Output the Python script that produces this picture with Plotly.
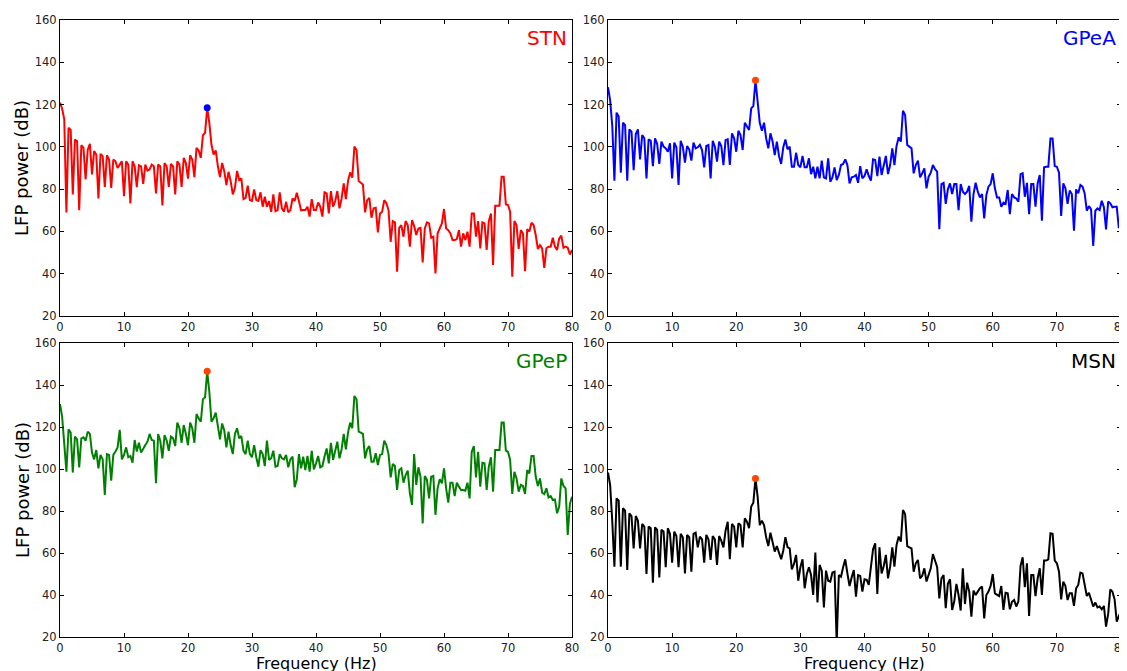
import plotly.graph_objects as go

# Frequency resolution of the spectra (Hz per bin)
FREQ_STEP = 1.0 / 3.0

stn_db = [
    121, 118, 113, 69, 109, 108, 77.5, 103.5, 102.7, 70,
    100.8, 99.5, 84.6, 98.7, 101.4, 87, 98, 96.4, 75.6, 96.7,
    95.6, 81, 96, 94, 80.6, 94, 93.2, 90, 91.6, 93.2,
    76.7, 93.2, 91.6, 73.2, 93.2, 90.8, 81, 91.3, 90.8, 82.5,
    91.6, 88.8, 89.3, 91.6, 90.8, 78, 91.6, 90.8, 72.3, 92.4,
    90.8, 81, 92, 90.8, 77.5, 93.2, 91.6, 81, 94.8, 92.4,
    85, 96, 94, 85.7, 99.5, 98.3, 94.8, 105.5, 106.6, 118.5,
    111.3, 101, 96.4, 98.3, 90.8, 85.7, 92.4, 88.5, 81.9, 88.2,
    83.8, 77.5, 80.6,
    88.6, 84.3, 85.1, 75.3, 75.9, 81.6, 74.8, 74.4, 79.9, 74.8,
    74.4, 78.5, 71.7, 76.4, 71.7, 74.4, 69.3, 77.5, 69.6, 70.1,
    78.5, 70.9, 69.3, 74.0, 69.0, 70.1, 75.6, 74.4, 78.3, 74.4,
    70.0, 70.1, 70.1, 71.7, 67.0, 75.3, 70.1, 70.1, 73.7, 71.7,
    67.0, 78.5, 78.0, 68.5, 79.1, 71.7, 74.4, 79.1, 70.9, 75.6,
    82.7, 75.3, 83.8, 87.9, 85.4, 100.1, 98.5, 83.8, 83.2, 82.2,
    69.0, 74.8, 75.9, 66.5, 70.9, 71.2, 59.5, 68.5, 69.3, 74.8,
    73.3, 70.1, 55.1, 64.9, 64.3, 40.9, 61.7, 63.0, 57.5, 64.9,
    63.0, 52.8,
    65.4, 62.7, 58.3, 61.4, 61.7, 45.3, 61.4, 64.3, 63.8, 57.0,
    57.5, 40.1, 59.1, 61.4, 63.8, 70.6, 61.4, 60.6, 59.1, 55.9,
    55.9, 56.4, 60.6, 52.8, 59.1, 55.9, 59.9, 52.8, 68.5, 68.5,
    57.5, 64.9, 52.0, 64.3, 63.8, 51.2, 64.9, 68.5, 44.1, 72.2,
    72.2, 72.2, 85.9, 85.9, 72.8, 72.5, 69.3, 38.6, 64.9, 63.0,
    51.7, 60.6, 59.1, 41.2, 61.1, 59.9, 64.1, 63.0, 58.3, 51.7,
    53.5, 52.0, 42.8, 52.0, 52.8, 52.8, 57.0, 52.8, 51.2, 56.7,
    58.0, 52.3, 52.8, 52.3, 49.1, 51.2,
]

gpea_db = [
    128.2, 122, 110, 84.0, 116.2, 114.3, 87.8, 111.4, 110.3, 84.0,
    108.3, 107.2, 89.0, 106.1, 108.3, 94.1, 105.6, 104.0, 85.1, 103.6,
    102.9, 90.9, 104.0, 101.4, 91.9, 102.5, 100.1, 99.3, 97.7, 101.7,
    85.1, 102.0, 99.8, 82.0, 102.9, 100.1, 92.5, 100.4, 98.8, 93.5,
    102.0, 99.3, 99.8, 100.9, 98.5, 90.3, 100.4, 100.9, 85.1, 102.9,
    100.1, 93.0, 102.5, 100.4, 91.4, 103.2, 103.6, 91.4, 106.4, 104.0,
    97.7, 107.6, 105.6, 98.5, 111.4, 109.9, 108.0, 118.2, 119.3, 131.5,
    121.4, 111.4, 107.6, 111.4, 104.0, 99.3, 106.4, 102.5, 96.1, 102.5,
    95.7, 91.9, 99.8,
    103.5, 98.8, 100.1, 90.6, 90.6, 97.2, 91.4, 90.3, 95.7, 90.3,
    90.3, 94.6, 87.1, 90.6, 85.1, 90.6, 85.1, 93.5, 85.6, 85.1,
    94.6, 83.5, 85.6, 90.3, 84.3, 86.7, 91.4, 91.9, 94.1, 91.4,
    82.7, 85.6, 85.9, 86.7, 83.0, 90.9, 85.1, 86.2, 89.4, 86.2,
    84.0, 94.1, 93.8, 86.2, 95.4, 86.7, 91.4, 95.7, 87.1, 91.4,
    99.3, 91.4, 100.4, 104.5, 102.5, 117.1, 115.1, 100.9, 100.1, 99.3,
    87.5, 91.4, 93.5, 85.6, 87.5, 89.8, 80.4, 85.9, 87.8, 91.4,
    89.4, 88.3, 61.0, 82.4, 83.0, 73.0, 79.9, 82.7, 77.7, 82.4,
    82.4, 70.1,
    82.4, 78.8, 77.7, 78.8, 81.5, 64.6, 77.7, 83.0, 78.8, 76.1,
    77.7, 66.2, 77.2, 81.2, 82.4, 87.5, 80.4, 76.1, 76.1, 71.7,
    73.6, 73.0, 79.6, 68.2, 77.7, 76.1, 75.6, 74.1, 87.1, 87.5,
    76.4, 83.0, 68.2, 82.4, 82.4, 71.7, 82.7, 86.7, 65.1, 90.3,
    90.6, 90.6, 104.0, 104.0, 90.9, 90.6, 87.8, 67.3, 82.7, 80.4,
    73.0, 79.3, 77.7, 60.3, 79.9, 78.0, 82.0, 81.2, 78.0, 69.8,
    72.0, 70.4, 53.1, 69.8, 70.9, 70.1, 74.5, 71.4, 61.0, 74.1,
    73.3, 71.4, 71.7, 71.7, 61.5, 71.4,
]

gpep_db = [
    130.9, 124.9, 112, 98.7, 118.9, 117.3, 98.3, 115.4, 114.1, 100.8,
    114.6, 115.1, 113.5, 117.8, 116.7, 107.8, 104.6, 109.0, 100.3, 106.7,
    104.6, 87.6, 107.1, 106.7, 94.4, 106.7, 108.3, 110.3, 118.6, 104.6,
    106.7, 110.3, 105.6, 106.2, 103.0, 113.8, 108.3, 112.5, 107.8, 109.8,
    111.4, 113.0, 116.7, 113.8, 113.5, 93.2, 116.7, 113.5, 105.1, 116.2,
    113.5, 108.7, 115.4, 114.6, 110.9, 122.1, 119.4, 112.5, 120.9, 116.7,
    111.4, 122.1, 119.4, 112.5, 126.2, 124.1, 122.5, 133.2, 134.1, 146.5,
    136.8, 122.5, 124.1, 126.8, 119.4, 114.1, 121.7, 118.3, 110.3, 117.8,
    111.4, 107.1, 116.7,
    119.4, 114.6, 115.7, 108.7, 107.1, 113.5, 107.1, 105.6, 111.4, 105.6,
    101.1, 109.0, 107.1, 101.4, 113.5, 104.3, 105.1, 108.7, 101.1, 101.4,
    107.1, 105.1, 104.6, 106.7, 100.8, 104.6, 105.9, 91.3, 95.1, 107.1,
    100.3, 105.9, 99.5, 106.2, 98.7, 108.7, 99.8, 102.7, 106.2, 100.8,
    101.4, 105.9, 109.8, 102.7, 112.5, 104.3, 109.0, 113.0, 105.1, 109.4,
    116.7, 109.4, 117.3, 122.1, 119.4, 134.8, 133.2, 117.8, 117.3, 116.7,
    105.1, 109.4, 110.9, 103.5, 103.5, 107.5, 101.9, 106.7, 107.1, 113.5,
    111.4, 107.1, 96.0, 102.4, 101.4, 90.0, 99.5, 100.3, 93.5, 97.1,
    99.2, 88.4,
    82.9, 107.1, 92.4, 100.8, 96.3, 74.1, 96.7, 94.8, 86.0, 96.3,
    96.7, 78.1, 90.8, 95.1, 93.2, 100.3, 90.8, 84.0, 93.5, 93.5,
    87.1, 93.5, 91.6, 90.0, 90.0, 89.7, 93.5, 86.0, 108.2, 110.9,
    96.0, 108.2, 91.6, 103.0, 102.7, 90.0, 101.1, 105.6, 89.2, 109.0,
    109.0, 109.0, 122.1, 122.1, 108.7, 108.2, 104.3, 88.1, 98.7, 95.5,
    89.2, 92.4, 91.9, 88.1, 99.5, 97.9, 106.2, 106.2, 96.3, 91.9,
    95.5, 88.7, 88.1, 90.8, 86.5, 87.1, 85.2, 85.5, 78.9, 82.1,
    95.5, 91.9, 90.8, 68.6, 83.3, 86.8,
]

msn_db = [
    98.3, 92.4, 75, 53.5, 86.0, 84.9, 53.5, 81.3, 80.2, 51.9,
    78.9, 77.6, 62.2, 77.6, 75.4, 62.2, 73.8, 72.6, 50.0, 72.6,
    71.8, 45.9, 72.2, 71.0, 48.4, 71.0, 70.2, 53.2, 71.8, 69.1,
    55.4, 70.2, 68.1, 53.2, 69.1, 67.5, 50.3, 68.6, 67.5, 51.1,
    69.1, 69.7, 62.7, 67.8, 66.5, 55.4, 68.6, 66.5, 56.7, 68.1,
    66.5, 54.3, 68.1, 65.9, 62.7, 70.6, 74.9, 57.0, 73.8, 72.6,
    62.7, 74.1, 73.3, 62.7, 76.5, 74.9, 71.8, 82.1, 84.0, 95.5,
    86.8, 73.3, 75.4, 73.3, 67.5, 63.3, 69.7, 65.4, 60.7, 63.3,
    59.5, 57.0, 61.1,
    67.5, 62.7, 62.2, 52.2, 54.8, 59.1, 46.8, 53.2, 57.0, 43.2,
    50.0, 53.2, 49.5, 40.0, 60.2, 36.4, 54.3, 51.6, 34.1, 51.6,
    46.8, 46.4, 50.7, 51.1, 17.0, 49.5, 48.7, 53.2, 57.0, 50.3,
    44.3, 48.4, 51.9, 39.2, 49.5, 49.1, 41.6, 47.5, 47.2, 44.8,
    55.1, 61.8, 64.6, 40.5, 62.7, 50.3, 53.8, 59.1, 47.9, 53.5,
    62.7, 53.5, 63.8, 67.8, 65.4, 80.5, 78.6, 63.3, 62.7, 62.2,
    51.1, 55.1, 56.7, 47.9, 49.1, 52.7, 46.4, 49.5, 52.7, 59.5,
    56.7, 53.2, 38.4, 47.9, 49.5, 33.7, 45.3, 47.5, 32.9, 37.0,
    45.3, 40.0,
    32.6, 52.7, 35.7, 45.9, 41.6, 29.7, 42.1, 40.0, 41.6, 43.2,
    44.0, 28.9, 40.0, 41.6, 44.3, 50.0, 40.8, 40.0, 39.5, 44.3,
    32.9, 41.1, 40.8, 33.2, 36.8, 37.6, 34.5, 37.0, 53.8, 58.0,
    43.7, 55.1, 30.0, 49.5, 49.5, 39.5, 47.9, 52.7, 40.0, 56.4,
    56.4, 57.0, 69.4, 69.1, 56.4, 55.1, 51.1, 37.9, 46.4, 44.3,
    37.6, 40.8, 40.8, 34.8, 43.2, 44.8, 50.7, 50.3, 45.3, 39.5,
    41.1, 37.9, 34.5, 36.4, 34.1, 34.5, 33.2, 34.8, 24.9, 31.0,
    42.7, 41.6, 37.9, 27.3, 29.7, 32.6,
]

panel_names = ["STN", "GPeA", "GPeP", "MSN"]
panel_series = [stn_db, gpea_db, gpep_db, msn_db]
line_colors = ["#ff0000", "#0000ff", "#008000", "#000000"]
peak_colors = ["#0000ff", "#ff4500", "#ff4500", "#ff4500"]
x_ticks = [0, 10, 20, 30, 40, 50, 60, 70, 80]
y_ticks = [20, 40, 60, 80, 100, 120, 140, 160]
BETA_BAND = (15, 30)

W, H = 1127, 671
OFF = 8  # default page margin of the html body
x_doms = [(60, 572), (608, 1121), (60, 572), (608, 1121)]
y_doms = [(20, 316), (20, 316), (343, 637), (343, 637)]


def px(x):
    return (x - OFF) / W


def py(y):
    return 1 - (y - OFF) / H


TICKFONT = dict(family="DejaVu Sans", size=11.5, color="#222222")
TITLEFONT = dict(family="DejaVu Sans", size=18, color="black")

fig = go.Figure()
for i, (name, vals) in enumerate(zip(panel_names, panel_series)):
    freqs = [k * FREQ_STEP for k in range(len(vals))]
    ax = "" if i == 0 else str(i + 1)
    fig.add_trace(go.Scatter(x=freqs, y=vals, mode="lines",
                             line=dict(color=line_colors[i], width=2),
                             xaxis="x" + ax, yaxis="y" + ax, showlegend=False,
                             hoverinfo="skip"))
    band = [k for k, f in enumerate(freqs) if BETA_BAND[0] <= f <= BETA_BAND[1]]
    kp = max(band, key=lambda k: vals[k])
    fig.add_trace(go.Scatter(x=[freqs[kp]], y=[vals[kp]], mode="markers",
                             marker=dict(color=peak_colors[i], size=7),
                             xaxis="x" + ax, yaxis="y" + ax, showlegend=False,
                             cliponaxis=False))
    x0, x1 = x_doms[i]
    y0, y1 = y_doms[i]
    axis_common = dict(showline=True, linecolor="black", linewidth=1,
                       mirror="ticks", ticks="inside", ticklen=4, tickwidth=1,
                       tickcolor="black", showgrid=False, zeroline=False,
                       automargin=False, tickfont=TICKFONT)
    xa = dict(domain=[px(x0), px(x1)], anchor="y" + ax, range=[0, 80],
              tickvals=x_ticks, **axis_common)
    ya = dict(domain=[py(y1), py(y0)], anchor="x" + ax, range=[20, 160],
              tickvals=y_ticks, **axis_common)
    fig.update_layout(**{"xaxis" + ax: xa, "yaxis" + ax: ya})
    fig.add_annotation(text=name, xref="x" + ax + " domain", yref="y" + ax + " domain",
                       x=0.995, y=0.985, xanchor="right", yanchor="top", showarrow=False,
                       font=dict(family="DejaVu Sans", size=20, color=line_colors[i]))
    if i % 2 == 0:
        fig.add_annotation(text="LFP power (dB)", xref="paper", yref="paper",
                           x=px(22), y=py((y0 + y1) / 2), xanchor="center",
                           yanchor="middle", textangle=-90, showarrow=False,
                           font=TITLEFONT)
    if i >= 2:
        fig.add_annotation(text="Frequency (Hz)", xref="paper", yref="paper",
                           x=px((x0 + x1) / 2), y=py(663), xanchor="center",
                           yanchor="middle", showarrow=False, borderpad=0,
                           font=dict(family="DejaVu Sans", size=16, color="black"))

fig.update_layout(width=W, height=H, margin=dict(l=0, r=0, t=0, b=0),
                  paper_bgcolor="white", plot_bgcolor="white")
fig.write_html("out.html")
